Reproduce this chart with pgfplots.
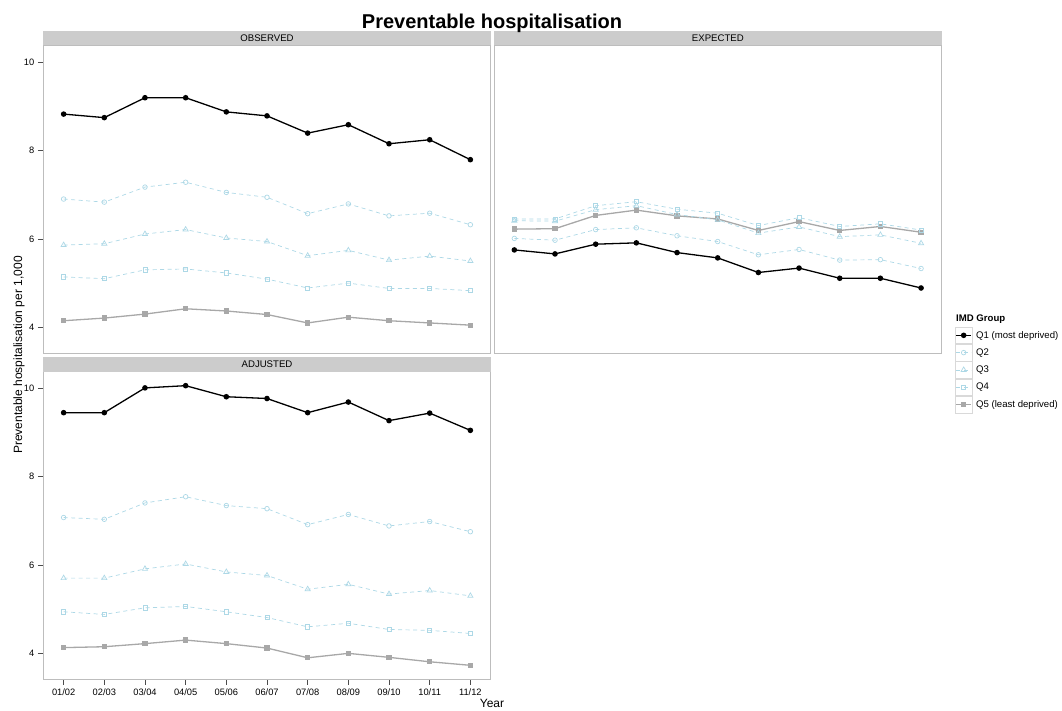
\documentclass[border=0pt]{standalone}
\usepackage{pgfplots}
\pgfplotsset{compat=1.18}
\usepackage{pgfplotstable}
\usepackage{fontspec}
\setmainfont{Liberation Sans}
\definecolor{qblue}{HTML}{ADD8E6}
\definecolor{qgray}{HTML}{A8A8A8}
\definecolor{stripgray}{HTML}{CCCCCC}
\definecolor{bordergray}{HTML}{BDBDBD}

\pgfplotstableread{
x q1 q2 q3 q4 q5
0 8.82 6.90 5.86 5.14 4.15
1 8.74 6.83 5.89 5.10 4.21
2 9.19 7.17 6.11 5.30 4.30
3 9.19 7.28 6.21 5.32 4.42
4 8.87 7.05 6.02 5.23 4.37
5 8.78 6.94 5.94 5.09 4.29
6 8.39 6.57 5.62 4.89 4.10
7 8.58 6.79 5.74 5.00 4.23
8 8.15 6.52 5.52 4.88 4.15
9 8.24 6.58 5.61 4.88 4.10
10 7.79 6.32 5.50 4.83 4.05
}\obs

\pgfplotstableread{
x q1 q2 q3 q4 q5
0 5.75 6.01 6.41 6.45 6.22
1 5.66 5.97 6.40 6.45 6.23
2 5.88 6.21 6.66 6.75 6.53
3 5.91 6.25 6.75 6.84 6.65
4 5.69 6.07 6.55 6.67 6.52
5 5.57 5.94 6.43 6.58 6.45
6 5.24 5.64 6.13 6.30 6.19
7 5.34 5.76 6.27 6.48 6.39
8 5.11 5.52 6.05 6.28 6.19
9 5.11 5.53 6.09 6.34 6.28
10 4.89 5.33 5.90 6.20 6.15
}\expd

\pgfplotstableread{
x q1 q2 q3 q4 q5
0 9.44 7.07 5.70 4.94 4.13
1 9.44 7.03 5.70 4.88 4.15
2 10.00 7.40 5.91 5.03 4.22
3 10.05 7.54 6.02 5.06 4.30
4 9.80 7.34 5.84 4.94 4.22
5 9.76 7.27 5.76 4.81 4.12
6 9.44 6.91 5.45 4.60 3.90
7 9.68 7.14 5.56 4.68 4.00
8 9.26 6.88 5.34 4.54 3.91
9 9.43 6.98 5.42 4.52 3.81
10 9.04 6.75 5.30 4.45 3.73
}\adj

\pgfplotsset{
  panel/.style={
    scale only axis, width=447.4pt, height=307.6pt,
    xmin=-0.5, xmax=10.5, ymin=3.414, ymax=10.366,
    axis line style={bordergray, line width=0.8pt},
    tick align=outside, major tick length=5.5pt,
    tick style={black!70, line width=0.6pt},
    ticklabel style={font=\fontsize{9.3}{10}\selectfont, text=black},
    /pgf/number format/assume math mode=true,
    xtick pos=bottom, ytick pos=left,
    anchor=south west,
    legend image code/.code={%
      \draw[draw=black!15, fill=white, solid, line width=0.6pt] (0pt,-8.35pt) rectangle (17.4pt,8.35pt);
      \draw[mark repeat=2, mark phase=2, ##1] plot coordinates {(1.2pt,0pt) (8.7pt,0pt) (16.2pt,0pt)};
    },
  },
  q1/.style={black, solid, line width=1.3pt, mark=*, mark size=2.1pt},
  q2/.style={qblue, dash pattern=on 4pt off 3.5pt, line width=0.7pt, mark=o, mark size=2.3pt, mark options={solid}},
  q3/.style={qblue, dash pattern=on 4pt off 3.5pt, line width=0.7pt, mark=triangle, mark size=3pt, mark options={solid}},
  q4/.style={qblue, dash pattern=on 4pt off 3.5pt, line width=0.7pt, mark=square, mark size=2.1pt, mark options={solid}},
  q5/.style={qgray, solid, line width=1.3pt, mark=square*, mark size=2pt},
}

\begin{document}
\begin{tikzpicture}
\useasboundingbox (0pt,0pt) rectangle (1062pt,711pt);

% OBSERVED
\begin{axis}[panel, at={(43.3pt,357.7pt)}, xtick=\empty, ytick={4,6,8,10}, yticklabels={4,6,8,10}]
\addplot[q5] table[x=x,y=q5]{\obs};
\addplot[q4] table[x=x,y=q4]{\obs};
\addplot[q3] table[x=x,y=q3]{\obs};
\addplot[q2] table[x=x,y=q2]{\obs};
\addplot[q1] table[x=x,y=q1]{\obs};
\end{axis}

% EXPECTED
\begin{axis}[panel, at={(494pt,357.7pt)}, xtick=\empty, ytick=\empty,
  legend style={at={(1.0297,0.0865)}, anchor=north west, draw=none, fill=none,
    inner sep=0pt, outer sep=0pt, row sep=0pt, column sep=3.5pt,
    nodes={inner sep=0pt, outer sep=0pt}, font=\fontsize{9.6}{11}\selectfont,
    cells={anchor=west}},
  reverse legend]
\addplot[q5] table[x=x,y=q5]{\expd};
\addlegendentry{Q5 (least deprived)}
\addplot[q4] table[x=x,y=q4]{\expd};
\addlegendentry{Q4}
\addplot[q3] table[x=x,y=q3]{\expd};
\addlegendentry{Q3}
\addplot[q2] table[x=x,y=q2]{\expd};
\addlegendentry{Q2}
\addplot[q1] table[x=x,y=q1]{\expd};
\addlegendentry{Q1 (most deprived)}
\end{axis}

% ADJUSTED
\begin{axis}[panel, at={(43.3pt,31.7pt)}, xtick={0,...,10},
  xticklabels={01/02,02/03,03/04,04/05,05/06,06/07,07/08,08/09,09/10,10/11,11/12},
  ytick={4,6,8,10}, yticklabels={4,6,8,10}]
\addplot[q5] table[x=x,y=q5]{\adj};
\addplot[q4] table[x=x,y=q4]{\adj};
\addplot[q3] table[x=x,y=q3]{\adj};
\addplot[q2] table[x=x,y=q2]{\adj};
\addplot[q1] table[x=x,y=q1]{\adj};
\end{axis}

% strips
\fill[stripgray] (43.3pt,665.7pt) rectangle (490.7pt,680pt);
\fill[stripgray] (494pt,665.7pt) rectangle (941.7pt,680pt);
\fill[stripgray] (43.3pt,339.4pt) rectangle (490.7pt,353.5pt);
\node[font=\fontsize{9.6}{11}\selectfont] at (267pt,672.8pt) {OBSERVED};
\node[font=\fontsize{9.6}{11}\selectfont] at (717.85pt,672.8pt) {EXPECTED};
\node[font=\fontsize{9.6}{11}\selectfont] at (267pt,346.4pt) {ADJUSTED};

% titles
\node[anchor=base, font=\fontsize{20}{24}\selectfont\bfseries, inner sep=0pt] at (492pt,682.7pt) {Preventable hospitalisation};
\node[rotate=90, font=\fontsize{12}{14}\selectfont, inner sep=0pt] at (19pt,356pt) {Preventable hospitalisation per 1,000};
\node[anchor=base, font=\fontsize{12}{14}\selectfont, inner sep=0pt] at (492pt,3.5pt) {Year};
\node[anchor=base west, font=\fontsize{9.6}{11}\selectfont\bfseries, inner sep=0pt] at (956pt,389.3pt) {IMD Group};
\end{tikzpicture}
\end{document}
